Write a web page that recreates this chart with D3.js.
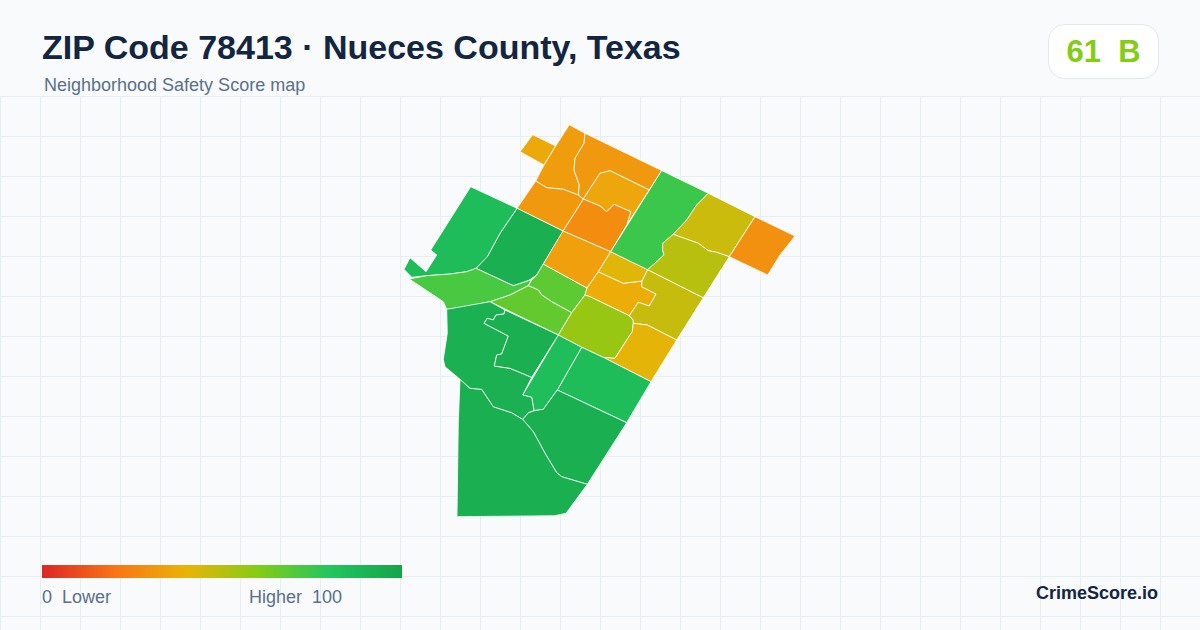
<!DOCTYPE html>
<html>
<head>
<meta charset="utf-8">
<script src="https://cdn.jsdelivr.net/npm/d3@7"></script>
<style>
  html, body { margin: 0; padding: 0; background: #f8fafc; }
  text { font-family: "Liberation Sans", Arial, sans-serif; white-space: pre; }
</style>
</head>
<body>
<script>
// tract scores, 0-100, estimated from the fill colours
var tractScores = [37, 33, 32, 36, 28, 32, 93, 85, 72, 68, 67, 34, 38, 56, 42, 47, 41, 85, 84, 93, 93, 92, 93, 75, 46, 50, 29]

// tract outlines in map units, same order as tractScores
var tractRings = [
  [[132.7,14.7],[155.7,26],[144,45],[120,31.7]],
  [[169.3,4.7],[185,13.3],[184,23.3],[175,38.3],[174,50],[179.3,65],[178.3,75],[163.3,69.3],[146.7,67.7],[135.7,61],[144,45],[155.7,26]],
  [[185,13.3],[261.7,50.5],[249.3,70],[210,50.7],[200,53.3],[191.7,66],[183.3,79],[178.3,75],[179.3,65],[174,50],[175,38.3],[184,23.3]],
  [[210,50.7],[249.3,70],[227,104.5],[230.7,91.7],[214,84.3],[206.7,91.7],[200,86],[183.3,79],[191.7,66],[200,53.3]],
  [[183.3,79],[200,86],[206.7,91.7],[214,84.3],[230.7,91.7],[227,104.5],[210.7,131.7],[163,111]],
  [[135.7,61],[146.7,67.7],[163.3,69.3],[178.3,75],[183.3,79],[163,111],[117,88.3]],
  [[117,88.3],[163,111],[143.3,144],[136.7,155],[128.3,160.7],[113.3,165.7],[76,148.3],[87.3,136.7],[100,113.3]],
  [[70.7,66.7],[117,88.3],[100,113.3],[87.3,136.7],[76,148.3],[66.7,151.7],[50,154],[26.7,155.7],[11.7,157.3],[4,149.3],[10,137.7],[26,151.7],[36.7,135],[30.7,130]],
  [[9.3,159],[26.7,155.7],[50,154],[66.7,151.7],[76,148.3],[113.3,165.7],[128.3,160.7],[131.7,160],[128.3,165.7],[110,175],[90,181.7],[66.7,186.7],[46.7,189.3],[43.3,181.7]],
  [[143.3,144],[187,168],[185,175],[171.7,192.7],[151.7,181.7],[141.7,175],[138.3,170],[128.3,165.7],[131.7,160],[136.7,155]],
  [[128.3,165.7],[138.3,170],[141.7,175],[151.7,181.7],[171.7,192.7],[158.3,215],[90,181.7],[110,175]],
  [[163,111],[210.7,131.7],[198.3,151.7],[187,168],[143.3,144]],
  [[198.3,151.7],[223.3,163.3],[242,161],[241.7,166.7],[256,174],[249.3,186],[238.3,182.3],[229.3,195.7],[190,176.7],[185,175],[187,168]],
  [[185,175],[190,176.7],[229.3,195.7],[233.3,200],[233.3,203.3],[232.3,211.7],[226.7,220],[215,238.3],[204,237.7],[181.7,227.3],[158.3,215],[171.7,192.7]],
  [[210.7,131.7],[247.7,149.7],[242,161],[223.3,163.3],[198.3,151.7]],
  [[247.7,149.7],[303.3,177.7],[276.7,220],[247.3,205],[233.3,203.3],[233.3,200],[229.3,195.7],[238.3,182.3],[249.3,186],[256,174],[241.7,166.7],[242,161]],
  [[233.3,203.3],[247.3,205],[276.7,220],[251,261.7],[204,237.7],[215,238.3],[226.7,220],[232.3,211.7]],
  [[181.7,227.3],[204,237.7],[251,261.7],[226.7,302.7],[157.3,270]],
  [[158.3,215],[181.7,227.3],[157.3,270],[143.3,289.3],[134,290.7],[133.3,286.7],[131.7,277.3],[122.7,275]],
  [[157.3,270],[226.7,302.7],[187.3,364.3],[161.7,356.7],[156.7,352.7],[145,333.3],[133.3,311.7],[122.7,299.3],[128.3,292.7],[134,290.7],[143.3,289.3]],
  [[60,259.3],[70,268.3],[81.7,269.3],[93.3,286.7],[111.7,292.7],[122.7,299.3],[133.3,311.7],[145,333.3],[156.7,352.7],[161.7,356.7],[187.3,364.3],[166,393.3],[155,395.7],[57,396.7],[58.3,303]],
  [[46.7,189.3],[90,181.7],[105,190],[104,194],[96,195],[93.3,200],[87.3,198.3],[84,203.3],[108.3,216],[101.7,234],[96.7,235],[94.3,246],[110,248.3],[131.7,257.3],[122.7,275],[131.7,277.3],[133.3,286.7],[134,290.7],[128.3,292.7],[122.7,299.3],[111.7,292.7],[93.3,286.7],[81.7,269.3],[70,268.3],[60,259.3],[45,246.7],[43.3,239.3],[47.3,213.3]],
  [[105,190],[158.3,215],[131.7,257.3],[110,248.3],[94.3,246],[96.7,235],[101.7,234],[108.3,216],[84,203.3],[87.3,198.3],[93.3,200],[96,195],[104,194]],
  [[261.7,50.5],[308.3,73.3],[296.7,85],[286.7,100],[273.3,114.3],[262.7,123.3],[262.7,130],[264,135],[247.7,149.7],[210.7,131.7]],
  [[308.3,73.3],[355,96.7],[329.3,136.7],[316.7,132.3],[308.3,130.7],[298.3,123.3],[273.3,114.3],[286.7,100],[296.7,85]],
  [[273.3,114.3],[298.3,123.3],[308.3,130.7],[316.7,132.3],[329.3,136.7],[303.3,177.7],[247.7,149.7],[264,135],[262.7,130],[262.7,123.3]],
  [[355,96.7],[395,116],[380,135],[367.7,155],[329.3,136.7]]
]

// colour ramp of the legend
var rampStops = [0, 20, 40, 60, 80, 100]
var rampColors = ['#dc2626', '#f97316', '#eab308', '#84cc16', '#22c55e', '#16a34a']

var titleText = 'ZIP Code 78413 · Nueces County, Texas'
var subtitleText = 'Neighborhood Safety Score map'
var overallScore = '61  B'
var legendLow = '0  Lower'
var legendHigh = 'Higher  100'
var brandText = 'CrimeScore.io'

var width = 1200
var height = 630
var gridStep = 40
var gridTop = 96.5

var svg = d3.select('body').append('svg')
  .attr('width', width)
  .attr('height', height)
  .style('display', 'block')

svg.append('rect')
  .attr('width', width)
  .attr('height', height)
  .attr('fill', '#f8fafc')

// background grid, starts under the header
var grid = svg.append('g')
  .attr('stroke', '#e7eef3')
  .attr('stroke-width', 1)

grid.selectAll('line.v')
  .data(d3.range(0, width, gridStep))
  .enter()
  .append('line')
  .attr('class', 'v')
  .attr('x1', function (d) { return d + 0.5 })
  .attr('x2', function (d) { return d + 0.5 })
  .attr('y1', gridTop)
  .attr('y2', height)

grid.selectAll('line.h')
  .data(d3.range(gridTop, height, gridStep))
  .enter()
  .append('line')
  .attr('class', 'h')
  .attr('x1', 0)
  .attr('x2', width)
  .attr('y1', function (d) { return d })
  .attr('y2', function (d) { return d })

// map
var x = d3.scaleLinear().domain([0, 400]).range([400, 800])
var y = d3.scaleLinear().domain([0, 400]).range([120, 520])
var color = d3.scaleLinear().domain(rampStops).range(rampColors)

var ringPath = d3.line()
  .x(function (d) { return x(d[0]) })
  .y(function (d) { return y(d[1]) })
  .curve(d3.curveLinearClosed)

svg.append('g')
  .selectAll('path')
  .data(tractRings)
  .enter()
  .append('path')
  .attr('d', ringPath)
  .attr('fill', function (d, i) { return color(tractScores[i]) })
  .attr('stroke', '#fff')
  .attr('stroke-width', 0.8)
  .attr('stroke-linejoin', 'round')

// header
svg.append('text')
  .attr('x', 42)
  .attr('y', 59)
  .attr('font-size', 34)
  .attr('font-weight', 700)
  .attr('fill', '#14253f')
  .text(titleText)

svg.append('text')
  .attr('x', 44)
  .attr('y', 91)
  .attr('font-size', 18)
  .attr('fill', '#5b7089')
  .text(subtitleText)

svg.append('rect')
  .attr('x', 1048.5)
  .attr('y', 24.5)
  .attr('width', 110)
  .attr('height', 54)
  .attr('rx', 16)
  .attr('fill', '#fff')
  .attr('stroke', '#e2e8f0')

svg.append('text')
  .attr('x', 1103.5)
  .attr('y', 62)
  .attr('text-anchor', 'middle')
  .attr('font-size', 31)
  .attr('font-weight', 700)
  .attr('fill', '#84cc16')
  .text(overallScore)

// legend
var legendX = d3.scaleLinear().domain([0, 100]).range([42, 402])

var gradient = svg.append('defs').append('linearGradient')
  .attr('id', 'ramp')

gradient.selectAll('stop')
  .data(rampStops)
  .enter()
  .append('stop')
  .attr('offset', function (d) { return d + '%' })
  .attr('stop-color', function (d, i) { return rampColors[i] })

svg.append('rect')
  .attr('x', legendX(0))
  .attr('y', 565)
  .attr('width', legendX(100) - legendX(0))
  .attr('height', 13)
  .attr('fill', 'url(#ramp)')

svg.append('text')
  .attr('x', 42)
  .attr('y', 603)
  .attr('font-size', 18)
  .attr('fill', '#5b7089')
  .text(legendLow)

svg.append('text')
  .attr('x', 342)
  .attr('y', 603)
  .attr('text-anchor', 'end')
  .attr('font-size', 18)
  .attr('fill', '#5b7089')
  .text(legendHigh)

svg.append('text')
  .attr('x', 1158)
  .attr('y', 599)
  .attr('text-anchor', 'end')
  .attr('font-size', 18)
  .attr('font-weight', 700)
  .attr('fill', '#14253f')
  .text(brandText)
</script>
</body>
</html>
